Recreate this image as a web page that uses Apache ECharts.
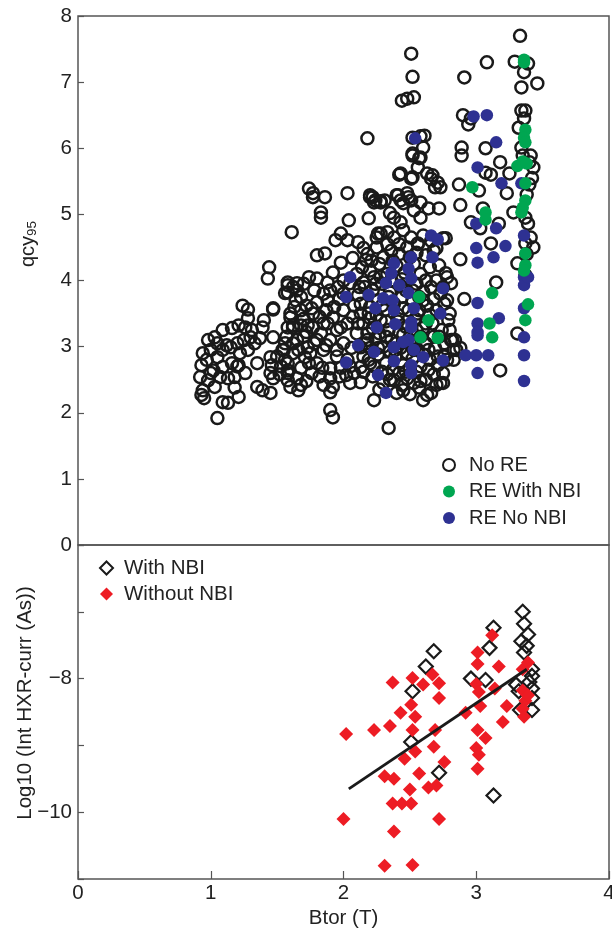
<!DOCTYPE html>
<html>
<head>
<meta charset="utf-8">
<script src="https://cdn.jsdelivr.net/npm/echarts@6/dist/echarts.min.js"></script>
<style>
  html, body { margin: 0; padding: 0; background: #fff; }
  #chart { width: 612px; height: 931px; }
</style>
</head>
<body>
<div id="chart"></div>
<script>
// top panel: qcy95 vs Btor
var noRE = [
  [0.94,2.9],[0.93,2.72],[0.92,2.54],[0.94,2.34],[0.93,2.27],[0.95,2.22],[1.05,1.92],
  [0.98,3.1],[1.03,3.14],[1.09,3.25],[1.16,3.28],[1.21,3.32],[1.26,3.29],[1.31,3.25],[1.39,3.29],[1.37,3.13],[1.47,3.14],
  [1.0,2.95],[1.05,2.84],[1.09,2.95],[1.15,2.99],[1.2,3.05],[1.25,3.1],[1.3,3.14],[1.09,2.69],[1.16,2.75],[1.21,2.72],
  [1.02,2.64],[1.07,2.54],[1.13,2.52],[1.18,2.54],[0.98,2.49],[1.03,2.39],[1.09,2.16],[1.13,2.15],[1.21,2.24],
  [1.35,2.39],[1.39,2.34],[1.45,2.3],[1.24,3.62],[1.28,3.56],[1.28,3.43],[1.44,4.2],[1.43,4.03],[1.47,3.58],[1.47,3.56],
  [1.45,2.84],[1.46,2.72],[1.45,2.6],[1.47,2.52],[1.55,2.95],[1.56,2.8],[1.58,2.64],[1.58,2.49],[1.6,2.39],[1.62,3.05],
  [1.62,3.29],[1.6,3.44],[1.58,3.82],[1.58,3.93],[1.65,3.96],[1.64,3.7],[1.54,2.95],
  [1.12,3.02],[1.22,2.9],[1.28,2.95],[1.33,3.05],[1.35,2.75],[1.05,3.05],[0.97,2.8],[1.0,2.6],[1.18,2.38],[1.26,2.6],[1.4,3.4],[1.2,2.7],
  [1.74,5.39],[1.77,5.32],[1.77,5.26],[1.86,5.26],[2.03,5.32],[1.83,5.03],[1.83,4.95],[1.61,4.73],[2.04,4.91],[2.19,4.94],
  [2.23,5.18],[2.2,5.26],[1.98,4.71],[1.94,4.61],[2.03,4.61],[2.11,4.58],[2.15,4.49],[2.26,4.71],
  [1.8,4.38],[1.86,4.41],[1.98,4.27],[2.07,4.34],[2.17,4.31],
  [1.58,3.97],[1.62,3.9],[1.74,4.05],[1.8,4.03],[1.88,3.97],[1.68,3.75],[1.56,3.81],[1.8,3.67],[1.88,3.7],[1.96,3.9],
  [2.05,3.96],[2.11,3.78],[2.15,3.97],[2.23,4.05],
  [1.6,3.5],[1.68,3.55],[1.77,3.5],[1.85,3.35],[1.92,3.44],[2.0,3.55],[1.62,3.32],[1.73,3.32],[2.03,3.35],[2.13,3.5],[2.2,3.43],
  [1.58,2.75],[1.58,2.6],[1.65,2.52],[1.68,2.42],[1.66,2.34],[1.71,2.84],[1.8,2.75],[1.9,2.67],[1.9,2.52],[1.92,2.39],
  [1.9,2.31],[2.02,2.57],[2.05,2.45],[2.13,2.46],[2.23,2.19],[1.9,2.04],[1.92,1.93],
  [1.58,3.29],[1.68,3.32],[1.77,3.29],[1.88,3.35],[1.98,3.29],[2.11,3.35],[1.56,3.05],[1.65,3.1],[1.73,2.99],[1.8,3.1],
  [1.9,3.1],[2.0,3.05],[2.13,2.99],[2.03,2.8],[2.13,2.69],[2.2,2.75],
  [1.7,3.15],[1.75,2.9],[1.85,2.95],[1.95,2.85],[1.83,3.2],[1.93,3.6],[1.72,3.62],[1.85,3.8],[1.97,3.72],[2.08,3.62],
  [2.1,3.2],[2.18,3.1],[2.08,2.6],[2.15,2.85],[1.62,2.9],[1.68,2.68],[1.97,2.55],[1.82,2.55],[2.1,4.1],[1.92,4.12],[2.0,4.0],
  [1.52,2.58],[1.53,2.7],[1.5,2.85],[1.57,3.15],[1.63,3.6],[1.7,3.42],[1.76,3.58],[1.82,3.45],[1.87,3.55],[1.95,3.25],
  [1.72,3.22],[1.78,3.05],[1.87,3.02],[1.95,2.95],[1.66,2.95],[1.74,2.75],[1.84,2.68],[1.76,2.6],[1.72,2.48],[1.85,2.42],
  [1.98,2.68],[2.05,2.7],[2.06,2.98],[2.07,3.45],[2.12,3.9],[2.0,3.8],[1.9,3.85],[1.78,3.85],[1.7,3.95],[1.65,3.85],
  [2.22,5.26],[2.28,5.2],[2.31,5.21],[2.4,5.29],[2.43,5.21],[2.49,5.26],[2.43,5.62],[2.52,5.56],[2.58,5.18],[2.64,5.09],
  [2.67,5.59],[2.71,5.48],[2.73,5.41],[2.52,5.92],[2.58,5.86],[2.6,6.01],[2.52,6.16],[2.61,6.19],[2.77,4.64],[2.7,4.49],
  [2.51,7.43],[2.52,7.08],[2.44,6.72],[2.48,6.75],[2.53,6.77],[2.18,6.15],[2.58,6.18],
  [2.52,5.89],[2.57,5.85],[2.56,5.71],[2.63,5.62],[2.66,5.54],[2.69,5.41],[2.42,5.6],[2.51,5.54],
  [2.41,5.29],[2.48,5.32],[2.45,5.17],[2.51,5.21],[2.53,5.06],[2.2,5.29],[2.24,5.21],[2.28,5.18],[2.35,5.02],[2.38,4.95],
  [2.43,4.88],[2.58,4.95],[2.72,5.09],
  [2.28,4.71],[2.33,4.73],[2.38,4.65],[2.45,4.76],[2.51,4.65],[2.56,4.56],[2.6,4.68],
  [2.72,4.23],[2.77,4.11],[2.81,3.96],[2.81,3.1],[2.83,2.95],[2.78,2.8],[2.75,2.6],
  [2.6,2.19],[2.63,2.27],[2.73,2.45],[2.53,2.45],[2.45,2.34],[2.38,2.49],[2.34,1.77],
  [2.18,4.4],[2.25,4.5],[2.3,4.35],[2.36,4.45],[2.42,4.4],[2.48,4.5],[2.55,4.42],[2.62,4.38],[2.68,4.45],
  [2.14,4.2],[2.2,4.15],[2.27,4.25],[2.33,4.1],[2.4,4.22],[2.46,4.12],[2.53,4.25],[2.58,4.1],[2.65,4.2],[2.7,4.0],
  [2.16,3.9],[2.22,3.85],[2.29,3.95],[2.35,3.82],[2.43,3.92],[2.47,3.85],[2.55,3.95],[2.6,3.83],[2.66,3.9],[2.73,3.8],
  [2.13,3.65],[2.2,3.6],[2.26,3.7],[2.31,3.55],[2.38,3.65],[2.45,3.58],[2.52,3.7],[2.57,3.55],[2.63,3.62],[2.7,3.55],[2.76,3.65],
  [2.15,3.35],[2.22,3.28],[2.28,3.4],[2.34,3.25],[2.41,3.38],[2.47,3.3],[2.54,3.42],[2.6,3.28],[2.67,3.35],[2.74,3.25],[2.79,3.4],
  [2.17,3.05],[2.24,3.12],[2.3,3.0],[2.36,3.1],[2.43,2.98],[2.5,3.08],[2.56,2.95],[2.62,3.05],[2.69,2.98],[2.76,3.05],
  [2.19,2.8],[2.26,2.88],[2.32,2.75],[2.39,2.85],[2.45,2.72],[2.52,2.82],[2.58,2.7],[2.65,2.8],[2.71,2.72],
  [2.22,2.55],[2.29,2.62],[2.35,2.5],[2.42,2.6],[2.48,2.52],[2.55,2.62],[2.62,2.5],[2.68,2.58],
  [2.27,2.35],[2.4,2.3],[2.5,2.28],[2.57,2.38],[2.66,2.3],
  [2.21,4.3],[2.28,4.05],[2.37,4.3],[2.44,4.02],[2.5,4.35],[2.57,3.75],[2.34,3.75],[2.41,3.48],[2.49,3.55],[2.25,3.48],
  [2.18,3.2],[2.32,3.38],[2.45,3.18],[2.58,3.15],[2.65,3.48],[2.72,3.15],[2.26,2.98],[2.39,2.95],[2.53,2.95],[2.6,2.88],
  [2.23,2.7],[2.37,2.65],[2.5,2.68],[2.64,2.65],[2.3,2.45],[2.44,2.42],[2.58,2.48],[2.7,2.42],[2.76,2.85],[2.8,3.25],
  [2.75,3.9],[2.78,3.7],[2.8,3.5],[2.85,2.95],[2.84,3.1],
  [2.19,3.5],[2.27,3.2],[2.35,2.93],[2.42,3.22],[2.48,2.9],[2.55,3.25],[2.62,3.35],[2.68,3.15],[2.44,3.75],[2.52,3.85],
  [2.36,4.0],[2.29,3.62],[2.62,4.0],[2.64,2.95],[2.71,2.85],[2.47,2.62],[2.33,2.58],[2.2,2.98],[2.15,2.62],[2.56,4.55],
  [2.42,4.55],[2.33,4.55],[2.25,4.65],[2.66,4.6],[2.6,3.7],[2.68,3.72],[2.24,3.95],[2.4,3.05],[2.56,3.5],[2.32,3.15],
  [3.33,7.7],[3.08,7.3],[3.29,7.31],[3.39,7.28],[3.36,7.15],[2.91,7.07],[3.34,6.92],[3.46,6.98],
  [2.9,6.5],[2.96,6.45],[2.94,6.36],[3.34,6.57],[3.37,6.57],[3.36,6.45],[3.32,6.31],
  [2.89,6.01],[2.89,5.89],[3.07,6.0],[3.34,6.01],[3.41,5.89],[3.4,5.79],[3.43,5.71],[3.35,5.89],
  [3.18,5.79],[3.07,5.63],[3.11,5.6],[3.25,5.62],[3.23,5.32],[2.87,5.45],[3.02,5.36],[2.88,5.14],[3.05,5.09],
  [3.28,5.03],[3.37,4.95],[3.39,4.86],[3.41,4.65],[3.37,4.56],[2.96,4.88],[3.03,4.79],[3.17,4.86],[3.11,4.56],
  [2.75,4.64],[2.88,4.32],[3.31,4.26],[3.37,4.08],[3.15,3.97],[2.78,4.05],[2.91,3.72],[3.31,3.2],[3.18,2.64],
  [2.82,3.1],[2.88,2.98],[2.83,2.8],[2.75,2.45],
  [3.4,5.45],[3.42,5.55],[3.38,5.3],[3.43,4.5],[3.38,4.4]
];
var reWithNBI = [
  [3.36,7.34],[3.36,7.3],[3.37,6.28],[3.36,6.16],[3.37,6.09],[3.31,5.73],[3.35,5.8],[3.38,5.77],[3.37,5.47],[2.97,5.41],
  [3.37,5.21],[3.35,5.1],[3.34,5.03],[3.07,5.03],[3.07,4.92],[3.37,4.41],[3.37,4.23],[3.36,4.15],[3.12,3.81],[3.39,3.64],
  [3.37,3.4],[3.1,3.35],[3.12,3.14],[2.57,3.75],[2.64,3.4],[2.58,3.14],[2.71,3.13]
];
var reNoNBI = [
  [2.05,4.05],[2.02,3.75],[2.19,3.78],[2.24,3.58],[2.25,3.29],[2.11,3.02],[2.23,2.92],[2.02,2.76],[2.26,2.57],
  [2.54,6.15],[2.66,4.68],[2.71,4.62],
  [2.51,4.35],[2.67,4.35],[2.38,4.26],[2.49,4.18],[2.36,4.11],[2.51,4.03],[2.32,3.96],[2.42,3.93],[2.75,3.88],[2.49,3.81],
  [2.3,3.73],[2.37,3.7],[2.38,3.55],[2.53,3.58],[2.73,3.5],[2.51,3.37],[2.39,3.34],[2.51,3.29],[2.49,3.1],
  [2.38,2.99],[2.45,3.07],[2.53,2.95],[2.6,2.84],[2.38,2.78],[2.75,2.79],[2.51,2.72],[2.51,2.6],[2.32,2.3],
  [2.98,6.48],[3.08,6.5],[3.15,6.09],[3.01,5.71],[3.19,5.47],[3.34,5.47],[3.0,4.86],[3.15,4.79],[3.0,4.49],[3.22,4.52],
  [3.01,4.27],[3.13,4.35],[3.36,4.68],[3.36,4.05],[3.36,3.93],[3.39,4.05],[3.01,3.66],[3.01,3.35],[3.01,3.22],[3.01,3.17],
  [3.17,3.43],[3.36,3.58],[3.36,3.14],[2.92,2.87],[3.0,2.87],[3.09,2.87],[3.36,2.87],[3.01,2.6],[3.36,2.48]
];

// bottom panel: Log10 (Int HXR-curr) vs Btor
var withNBI = [
  [2.68,-7.59],[2.62,-7.82],[2.52,-8.19],[2.51,-8.95],[2.72,-9.41],[3.13,-9.75],[2.96,-8.0],[3.07,-8.02],[3.1,-7.54],
  [3.13,-7.24],[3.35,-7.0],[3.36,-7.18],[3.39,-7.34],[3.34,-7.44],[3.38,-7.51],[3.36,-7.61],[3.42,-7.86],[3.42,-7.96],
  [3.3,-8.09],[3.42,-8.15],[3.32,-8.19],[3.42,-8.29],[3.33,-8.47],[3.42,-8.47],[3.4,-8.05]
];
var withoutNBI = [
  [2.02,-8.83],[2.0,-10.1],[2.23,-8.77],[2.35,-8.71],[2.37,-8.06],[2.31,-9.46],[2.38,-9.5],[2.37,-9.87],[2.38,-10.29],
  [2.31,-10.8],[2.52,-10.79],[2.44,-9.87],[2.51,-9.87],[2.5,-9.66],[2.57,-9.42],[2.46,-9.2],[2.54,-9.09],[2.52,-8.77],
  [2.54,-8.57],[2.43,-8.51],[2.51,-8.39],[2.52,-7.99],[2.6,-8.09],[2.67,-7.94],[2.72,-8.07],[2.72,-8.29],[2.69,-8.77],
  [2.68,-9.02],[2.76,-9.25],[2.7,-9.6],[2.64,-9.63],[2.72,-10.1],[2.92,-8.51],[3.01,-7.61],[3.01,-7.78],[3.0,-8.08],
  [3.02,-8.2],[3.03,-8.41],[3.01,-8.77],[3.07,-8.89],[3.0,-9.04],[3.02,-9.14],[3.01,-9.35],[3.12,-7.35],[3.17,-7.82],
  [3.14,-8.15],[3.23,-8.41],[3.2,-8.65],[3.35,-7.86],[3.39,-7.76],[3.35,-8.18],[3.37,-8.33],[3.35,-8.45],[3.36,-8.57],[3.39,-8.25]
];
var fitX = [2.04, 3.38];
var fitY = [-9.65, -7.86];

var font = 'Liberation Sans, Arial, sans-serif';
var txt = '#222';
var chart = echarts.init(document.getElementById('chart'));

var option = {
  backgroundColor: '#fff',
  animation: false,
  textStyle: { fontFamily: font },
  grid: [
    { left: 78, top: 16, width: 531, height: 529, outerBoundsMode: 'none', containLabel: false,
      show: true, borderColor: '#555', borderWidth: 1.5, backgroundColor: 'transparent' },
    { left: 78, top: 545, width: 531, height: 334, outerBoundsMode: 'none', containLabel: false,
      show: true, borderColor: '#555', borderWidth: 1.5, backgroundColor: 'transparent' }
  ],
  legend: [
    {
      orient: 'vertical', left: 437, top: 449, itemGap: 4.5, itemWidth: 12, itemHeight: 12,
      textStyle: { fontSize: 20, lineHeight: 22, color: txt, fontFamily: font, padding: [0, 0, 0, 9] },
      data: ['No RE', 'RE With NBI', 'RE No NBI']
    },
    {
      orient: 'vertical', left: 94, top: 552, itemGap: 4, itemWidth: 13, itemHeight: 13,
      textStyle: { fontSize: 20.5, lineHeight: 22, color: txt, fontFamily: font, padding: [0, 0, 0, 6] },
      data: ['With NBI', 'Without NBI']
    }
  ],
  graphic: [
    {
      type: 'text', x: 28, y: 244, rotation: Math.PI / 2,
      style: {
        text: '{a|qcy}{b|95}', align: 'center', verticalAlign: 'middle',
        rich: {
          a: { fontSize: 20, fill: txt, fontFamily: font },
          b: { fontSize: 13.5, fill: txt, fontFamily: font, padding: [9, 0, 0, 0] }
        }
      }
    },
    {
      type: 'text', x: 25, y: 703, rotation: Math.PI / 2,
      style: {
        text: 'Log10 (Int HXR-curr (As))', align: 'center', verticalAlign: 'middle',
        fontSize: 20.5, fill: txt, fontFamily: font
      }
    }
  ],
  xAxis: [
    {
      gridIndex: 0, type: 'value', min: 0, max: 4, interval: 1,
      axisLine: { show: false }, axisTick: { show: false }, axisLabel: { show: false }, splitLine: { show: false }
    },
    {
      gridIndex: 1, type: 'value', min: 0, max: 4, interval: 1,
      name: 'Btor (T)', nameLocation: 'middle', nameGap: 29,
      nameTextStyle: { fontSize: 20.5, color: txt },
      axisLine: { show: false },
      axisTick: { show: true, inside: true, length: 8, lineStyle: { color: '#555', width: 1.2 } },
      axisLabel: { fontSize: 20.5, color: txt, margin: 4 },
      splitLine: { show: false }
    }
  ],
  yAxis: [
    {
      gridIndex: 0, type: 'value', min: 0, max: 8, interval: 1,
      axisLine: { show: false },
      axisTick: { show: true, inside: true, length: 6, lineStyle: { color: '#555', width: 1.2 } },
      axisLabel: { fontSize: 20.5, color: txt, margin: 6 },
      splitLine: { show: false }
    },
    {
      gridIndex: 1, type: 'value', min: -11, max: -6, interval: 1,
      axisLine: { show: false },
      axisTick: { show: true, inside: true, length: 6, lineStyle: { color: '#555', width: 1.2 } },
      axisLabel: {
        fontSize: 20.5, color: txt, margin: 6,
        formatter: function (v) { return (v === -8 || v === -10) ? '\u2212' + Math.abs(v) : ''; }
      },
      splitLine: { show: false }
    }
  ],
  series: [
    {
      name: 'No RE', type: 'scatter', xAxisIndex: 0, yAxisIndex: 0, symbol: 'circle', symbolSize: 12,
      itemStyle: { color: 'rgba(255,255,255,0)', borderColor: '#1a1a1a', borderWidth: 2.5, opacity: 1 },
      data: noRE, z: 2
    },
    {
      name: 'RE With NBI', type: 'scatter', xAxisIndex: 0, yAxisIndex: 0, symbol: 'circle', symbolSize: 12.5,
      itemStyle: { color: '#00a651', opacity: 1 }, data: reWithNBI, z: 4
    },
    {
      name: 'RE No NBI', type: 'scatter', xAxisIndex: 0, yAxisIndex: 0, symbol: 'circle', symbolSize: 12.5,
      itemStyle: { color: '#2e3192', opacity: 1 }, data: reNoNBI, z: 3
    },
    {
      name: 'With NBI', type: 'scatter', xAxisIndex: 1, yAxisIndex: 1, symbol: 'diamond', symbolSize: 14,
      itemStyle: { color: 'rgba(255,255,255,0)', borderColor: '#1a1a1a', borderWidth: 2.2, opacity: 1 },
      data: withNBI, z: 2
    },
    {
      name: 'Without NBI', type: 'scatter', xAxisIndex: 1, yAxisIndex: 1, symbol: 'diamond', symbolSize: 14,
      itemStyle: { color: '#ed1c24', opacity: 1 }, data: withoutNBI, z: 3
    },
    {
      name: 'fit', type: 'line', xAxisIndex: 1, yAxisIndex: 1, symbol: 'none',
      lineStyle: { color: '#1a1a1a', width: 2.8 },
      data: fitX.map(function (x, i) { return [x, fitY[i]]; }), z: 5
    }
  ]
};
chart.setOption(option);
</script>
</body>
</html>
